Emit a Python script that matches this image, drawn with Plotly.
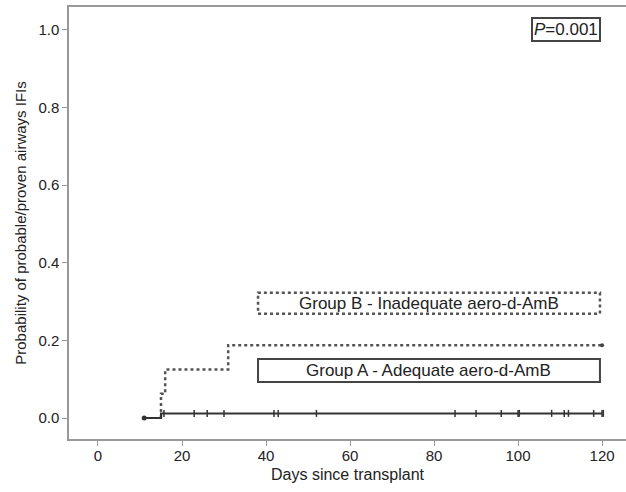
import plotly.graph_objects as go

# Data
days_ticks = [0, 20, 40, 60, 80, 100, 120]
prob_ticks = [0.0, 0.2, 0.4, 0.6, 0.8, 1.0]

groupA_days = [11, 15, 120]
groupA_prob = [0.0, 0.012, 0.012]
groupA_censor_days = [15.7, 22.9, 26, 30, 41.9, 42.9, 52, 85, 90, 96, 100, 100.3, 108, 111, 112, 118, 120, 120.3]
groupA_censor_prob = [0.012] * len(groupA_censor_days)

groupB_days = [15, 15, 16, 31, 120]
groupB_prob = [0.0, 0.0625, 0.125, 0.1875, 0.1875]
groupB_censor_days = [120]
groupB_censor_prob = [0.1875]

labelA = "Group A - Adequate aero-d-AmB"
labelB = "Group B - Inadequate aero-d-AmB"
p_text = "<i>P</i>=0.001"

FONT = "Liberation Sans, Arial"

fig = go.Figure()

fig.add_trace(go.Scatter(x=groupB_days, y=groupB_prob, mode="lines", line_shape="hv",
                         line=dict(color="#555555", width=2.5, dash="dot"), showlegend=False))
fig.add_trace(go.Scatter(x=groupB_censor_days, y=groupB_censor_prob, mode="markers",
                         marker=dict(symbol="circle", size=4, color="#444444"), showlegend=False))
fig.add_trace(go.Scatter(x=groupA_days, y=groupA_prob, mode="lines", line_shape="hv",
                         line=dict(color="#333333", width=2), showlegend=False))
fig.add_trace(go.Scatter(x=[groupA_days[0]], y=[groupA_prob[0]], mode="markers",
                         marker=dict(symbol="circle", size=5, color="#333333"), showlegend=False))
fig.add_trace(go.Scatter(x=groupA_censor_days, y=groupA_censor_prob, mode="markers",
                         marker=dict(symbol="line-ns", size=5, line=dict(color="#333333", width=1.5)),
                         showlegend=False))

# Legend boxes
fig.add_shape(type="rect", x0=38.1, x1=119.5, y0=0.269, y1=0.323, xref="x", yref="y",
              line=dict(color="#555555", width=2.5, dash="dot"))
fig.add_annotation(x=78.8, y=0.296, text=labelB, showarrow=False, xref="x", yref="y",
                   font=dict(family=FONT, size=17, color="#222222"))
fig.add_shape(type="rect", x0=38.1, x1=119.5, y0=0.093, y1=0.152, xref="x", yref="y",
              line=dict(color="#444444", width=2))
fig.add_annotation(x=78.8, y=0.1225, text=labelA, showarrow=False, xref="x", yref="y",
                   font=dict(family=FONT, size=17, color="#222222"))
fig.add_annotation(x=(566 - 98) / 4.2, y=(418 - 31) / 387, text=p_text, showarrow=False,
                   xref="x", yref="y", bordercolor="#444444", borderwidth=2, borderpad=1,
                   font=dict(family=FONT, size=17, color="#222222"))

fig.update_layout(
    width=626, height=492,
    margin=dict(l=69, r=0, t=7, b=53),
    paper_bgcolor="white", plot_bgcolor="white",
    font=dict(family=FONT, size=15, color="#222222"),
    xaxis=dict(range=[-6.9, 125.7], tickvals=days_ticks, showgrid=False, zeroline=False,
               showline=True, linecolor="#999999", linewidth=1.5, mirror=True,
               ticks="outside", ticklen=5, tickcolor="#999999", automargin=False,
               tickfont=dict(size=15), ticklabelstandoff=-3,
               title=dict(text="Days since transplant", standoff=6, font=dict(size=16))),
    yaxis=dict(range=[-0.054, 1.059], tickvals=prob_ticks, tickformat=".1f", showgrid=False,
               zeroline=False, showline=True, linecolor="#999999", linewidth=1.5,
               ticks="outside", ticklen=5, tickcolor="#999999", automargin=False,
               tickfont=dict(size=15),
               title=dict(text="Probability of probable/proven airways IFIs", standoff=8,
                          font=dict(size=15))),
)

fig.write_html("out.html", config={"displayModeBar": False},
               post_script="document.body.style.margin='0';")
